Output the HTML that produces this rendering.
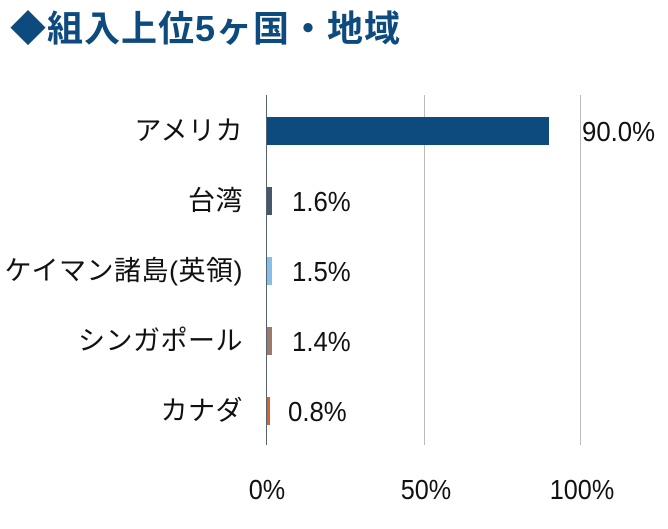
<!DOCTYPE html>
<html><head><meta charset="utf-8"><style>
body{margin:0;width:668px;height:529px;background:#fff;overflow:hidden;position:relative;font-family:"Liberation Sans","Noto Sans CJK JP",sans-serif}
.t{position:absolute;left:10px;top:0px;font-size:36px;font-weight:bold;color:#0d4a7d;white-space:nowrap;letter-spacing:1px}
.l{position:absolute;right:425px;font-size:27px;color:#111;white-space:nowrap;line-height:28px;letter-spacing:0.5px}
.v{position:absolute;font-size:28px;color:#111;line-height:28px;transform:scaleX(0.92);transform-origin:left center}
.b{position:absolute;height:28px}
.g{position:absolute;top:95px;height:350px;width:1px;background:#bbb}
.x{position:absolute;top:474px;font-size:28px;color:#111;transform:translateX(-50%) scaleX(0.9)}
</style></head><body>
<div class="t">◆組入上位5ヶ国・地域</div>
<div class="g" style="left:424px"></div>
<div class="g" style="left:580px"></div>
<div class="g" style="left:266px;background:#556070"></div>
<div class="b" style="left:267px;top:117px;width:282px;background:#0d4a7d"></div>
<div class="b" style="left:267px;top:187px;width:5px;background:#45586a"></div>
<div class="b" style="left:267px;top:257px;width:5px;background:#85bfe6"></div>
<div class="b" style="left:267px;top:327px;width:5px;background:#9a7b68"></div>
<div class="b" style="left:267px;top:397px;width:3px;background:#d9622a"></div>
<div class="l" style="top:117px">アメリカ</div>
<div class="l" style="top:187px">台湾</div>
<div class="l" style="top:257px">ケイマン諸島(英領)</div>
<div class="l" style="top:327px">シンガポール</div>
<div class="l" style="top:397px">カナダ</div>
<div class="v" style="left:582px;top:118px">90.0%</div>
<div class="v" style="left:292px;top:188px">1.6%</div>
<div class="v" style="left:292px;top:258px">1.5%</div>
<div class="v" style="left:292px;top:328px">1.4%</div>
<div class="v" style="left:288px;top:398px">0.8%</div>
<div class="x" style="left:267px">0%</div>
<div class="x" style="left:426px">50%</div>
<div class="x" style="left:582px">100%</div>
</body></html>
